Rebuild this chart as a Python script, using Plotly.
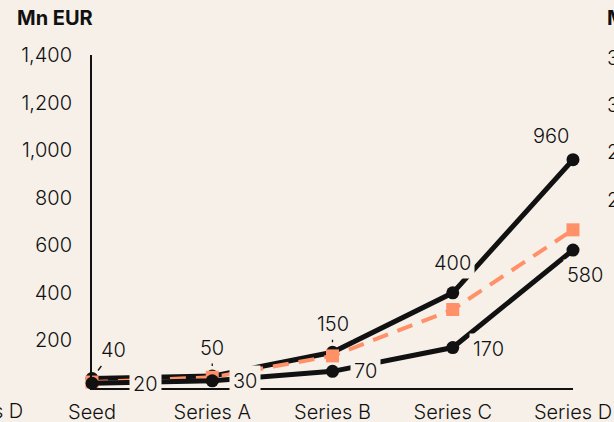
import plotly.graph_objects as go

# Funding round stages and amounts (Mn EUR)
stages = ["Seed", "Series A", "Series B", "Series C", "Series D"]
upper = [40, 50, 150, 400, 960]
lower = [20, 30, 70, 170, 580]
middle = [25, 45, 135, 330, 665]
y_ticks = [200, 400, 600, 800, 1000, 1200, 1400]
y_tick_text = ["200", "400", "600", "800", "1,000", "1,200", "1,400"]

BG = "#F6F0E9"
INK = "#111111"
CORAL = "#FF9068"
FONT = "Inter"
FS = 20
WT = 300

W, H = 614, 422
L, R, T, B = 92, 41, 55, 34
PW, PH = W - L - R, H - T - B


def px_x(p):
    return (p - L) / PW


def px_y(p):
    return (H - B - p) / PH


def txt(size=FS, weight=WT):
    return dict(family=FONT, size=size, color=INK, weight=weight)


fig = go.Figure()

fig.add_trace(go.Scatter(
    x=stages, y=upper, mode="lines+markers",
    line=dict(color=INK, width=5),
    marker=dict(color=INK, size=13, symbol="circle"),
    cliponaxis=False, hoverinfo="skip",
))
fig.add_trace(go.Scatter(
    x=stages, y=middle, mode="lines+markers",
    line=dict(color=CORAL, width=4, dash="16px,10px"),
    marker=dict(color=CORAL, size=13, symbol="square"),
    cliponaxis=False, hoverinfo="skip",
))
fig.add_trace(go.Scatter(
    x=stages, y=lower, mode="lines+markers",
    line=dict(color=INK, width=5),
    marker=dict(color=INK, size=13, symbol="circle"),
    cliponaxis=False, hoverinfo="skip",
))

annotations = []

# value labels: (series, index, dx, dy, leader)
label_style = [
    (upper, 0, 21, -28, True),
    (lower, 0, 53, 1, False),
    (upper, 1, 0, -28, True),
    (lower, 1, 33, 0, False),
    (upper, 2, 0, -28, True),
    (lower, 2, 33, 0, False),
    (upper, 3, 0, -30, False),
    (lower, 3, 36, 1, False),
    (upper, 4, -22, -24, False),
    (lower, 4, 12, 25, False),
]
for series, i, dx, dy, leader in label_style:
    base = dict(
        x=stages[i], y=series[i], xref="x", yref="y",
        text=f"{series[i]:,}", font=txt(),
        bgcolor=BG, borderpad=3,
    )
    if leader:
        base.update(showarrow=True, ax=dx, ay=dy, arrowhead=0,
                    arrowwidth=1.3, arrowcolor=INK, standoff=10)
    else:
        base.update(showarrow=False, xshift=dx, yshift=-dy)
    annotations.append(base)

# unit caption
annotations.append(dict(
    x=px_x(15), y=px_y(18), xref="paper", yref="paper",
    xanchor="left", yanchor="middle", showarrow=False,
    text="Mn EUR", font=txt(weight=700),
))

# edges of the neighbouring panels
annotations.append(dict(
    x=px_x(25), y=px_y(411), xref="paper", yref="paper",
    xanchor="right", yanchor="middle", showarrow=False,
    text="Series D", font=txt(),
))
annotations.append(dict(
    x=px_x(605), y=px_y(18), xref="paper", yref="paper",
    xanchor="left", yanchor="middle", showarrow=False,
    text="Mn EUR", font=txt(weight=700),
))
for t, yy in [("3,500", 58), ("3,000", 105), ("2,500", 152), ("2,000", 200)]:
    annotations.append(dict(
        x=px_x(605), y=px_y(yy), xref="paper", yref="paper",
        xanchor="left", yanchor="middle", showarrow=False,
        text=t, font=txt(),
    ))

fig.update_layout(
    width=W, height=H,
    margin=dict(l=L, r=R, t=T, b=B, autoexpand=False),
    paper_bgcolor=BG, plot_bgcolor=BG,
    showlegend=False,
    font=txt(),
    annotations=annotations,
    xaxis=dict(
        type="category", range=[0, 4], automargin=False,
        showline=True, linecolor=INK, linewidth=2,
        showgrid=False, zeroline=False, ticks="",
        tickfont=txt(),
        ticklabelstandoff=5,
    ),
    yaxis=dict(
        range=[0, 1400], tickvals=y_ticks, ticktext=y_tick_text,
        automargin=False,
        showline=True, linecolor=INK, linewidth=2,
        showgrid=False, zeroline=False, ticks="",
        tickfont=txt(),
        ticklabelstandoff=14,
    ),
)

fig.write_html("out.html")
